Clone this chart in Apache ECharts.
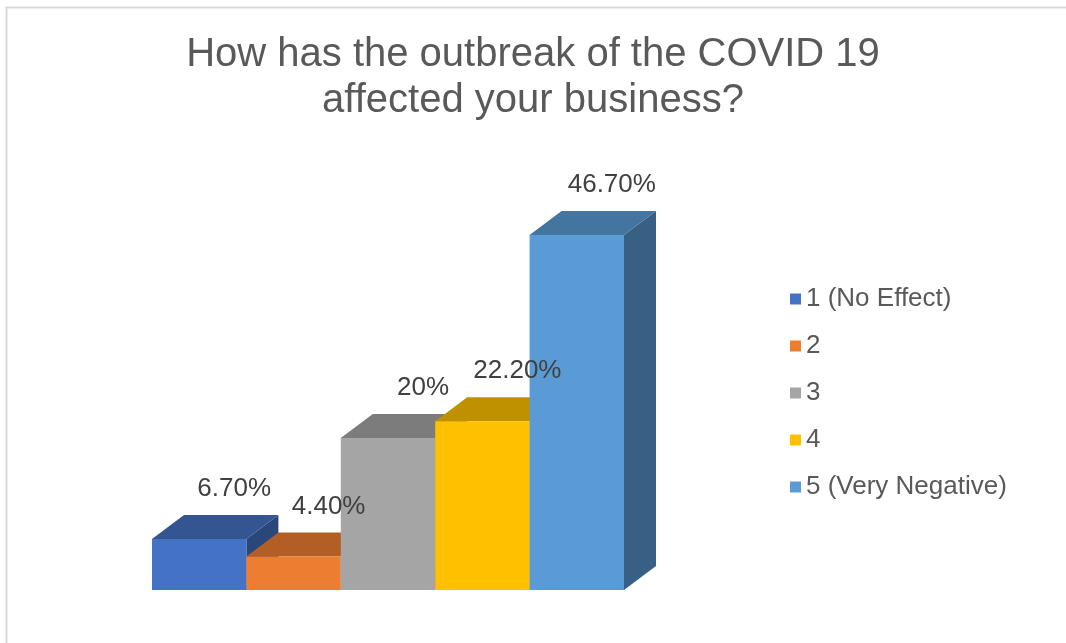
<!DOCTYPE html>
<html>
<head>
<meta charset="utf-8">
<script src="https://cdn.jsdelivr.net/npm/echarts@6/dist/echarts.min.js"></script>
<style>
  html, body { margin: 0; padding: 0; background: #fff; }
  #chart { width: 1066px; height: 643px; }
</style>
</head>
<body>
<div id="chart"></div>
<script>
const categories = ['1 (No Effect)', '2', '3', '4', '5 (Very Negative)'];
const shares = [6.7, 4.4, 20, 22.2, 46.7];
const colors = ['#4472C4', '#ED7D31', '#A5A5A5', '#FFC000', '#5B9BD5'];

// depth of the fake 3d box, in pixels
const DX = 32, DY = -24;

function shade(hex, f) {
  const n = parseInt(hex.slice(1), 16);
  const r = Math.round(((n >> 16) & 255) * f);
  const g = Math.round(((n >> 8) & 255) * f);
  const b = Math.round((n & 255) * f);
  return 'rgb(' + r + ',' + g + ',' + b + ')';
}

function fmt(v) {
  return (v % 1 === 0 ? v : v.toFixed(2)) + '%';
}

function renderBox(params, api) {
  const idx = api.value(0);
  const v = api.value(1);
  const base = api.coord([idx, 0]);
  const top = api.coord([idx, v]);
  const w = api.size([1, 0])[0];
  const x0 = base[0] - w / 2, x1 = base[0] + w / 2;
  const y0 = base[1], y1 = top[1];
  const c = colors[params.seriesIndex];
  const z = params.seriesIndex * 3;
  return {
    type: 'group',
    children: [
      {
        type: 'polygon',
        z2: z,
        shape: { points: [[x1, y0], [x1 + DX, y0 + DY], [x1 + DX, y1 + DY], [x1, y1]] },
        style: { fill: shade(c, 0.62) }
      },
      {
        type: 'polygon',
        z2: z + 1,
        shape: { points: [[x0, y1], [x0 + DX, y1 + DY], [x1 + DX, y1 + DY], [x1, y1]] },
        style: { fill: shade(c, 0.75) }
      },
      {
        type: 'rect',
        z2: z + 2,
        shape: { x: x0, y: y1, width: x1 - x0, height: y0 - y1 },
        style: { fill: c }
      },
      {
        type: 'text',
        z2: 100,
        x: base[0] + DX + 3,
        y: y1 + DY - 26,
        style: {
          text: fmt(v),
          fill: '#404040',
          font: '26px "Liberation Sans", Arial, sans-serif',
          align: 'center',
          verticalAlign: 'middle'
        }
      }
    ]
  };
}

const chart = echarts.init(document.getElementById('chart'));

const option = {
  animation: false,
  backgroundColor: '#fff',
  title: {
    text: 'How has the outbreak of the COVID 19\naffected your business?',
    left: 'center',
    top: 32,
    padding: [0, 0, 0, 14],
    textStyle: {
      color: '#595959',
      fontFamily: '"Liberation Sans", Arial, sans-serif',
      fontWeight: 'normal',
      fontSize: 40,
      lineHeight: 46
    }
  },
  legend: {
    orient: 'vertical',
    left: 785,
    top: 281,
    icon: 'rect',
    itemWidth: 11,
    itemHeight: 11,
    itemGap: 21,
    data: categories,
    textStyle: {
      color: '#595959',
      fontFamily: '"Liberation Sans", Arial, sans-serif',
      fontSize: 26,
      lineHeight: 26
    }
  },
  graphic: [{
    type: 'rect',
    left: 4,
    top: 5,
    shape: { width: 1100, height: 700 },
    style: { fill: 'none', stroke: '#d9d9d9', lineWidth: 2 },
    silent: true
  }],
  grid: { left: 152, width: 472, top: 210, bottom: 53 },
  xAxis: {
    type: 'category',
    data: categories,
    show: false
  },
  yAxis: {
    type: 'value',
    min: 0,
    max: 50,
    show: false,
    splitLine: { show: false }
  },
  series: categories.map((name, i) => ({
    type: 'custom',
    name: name,
    z: 2,
    itemStyle: { color: colors[i] },
    renderItem: renderBox,
    data: [[i, shares[i]]]
  }))
};

chart.setOption(option);
</script>
</body>
</html>
